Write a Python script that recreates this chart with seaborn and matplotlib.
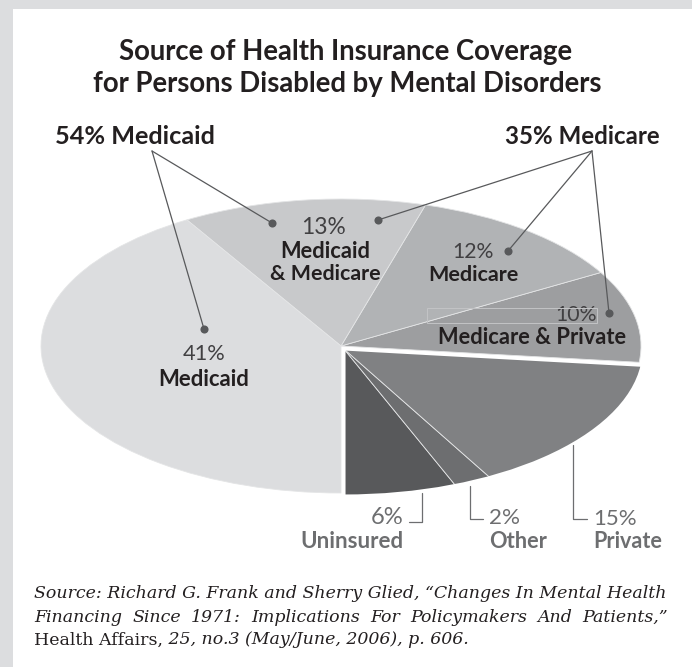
import matplotlib
matplotlib.use("Agg")
import matplotlib.pyplot as plt
import seaborn as sns
from matplotlib.patches import Rectangle, Wedge

sns.set_theme(style="white")
plt.rcParams['font.family'] = ['Lato', 'DejaVu Sans']

# ---------------- data ----------------
categories = ["Uninsured", "Other", "Private", "Medicare & Private",
              "Medicare", "Medicaid & Medicare", "Medicaid"]
shares = [6, 2, 15, 10, 12, 13, 41]
slice_colors = ["#58595b", "#6d6e70", "#808183", "#9d9ea0",
                "#b1b3b5", "#c8c9cb", "#dcdddf"]
pct_labels = ["6%", "2%", "15%", "10%", "12%", "13%", "41%"]
name_labels = ["Uninsured", "Other", "Private", "Medicare & Private",
               "Medicare", "Medicaid\n& Medicare", "Medicaid"]
group_labels = ["54% Medicaid", "35% Medicare"]
title_lines = ["Source of Health Insurance Coverage",
               "for Persons Disabled by Mental Disorders"]
source_lines = [
    "Source: Richard G. Frank and Sherry Glied, \u201cChanges In Mental Health",
    "Financing Since 1971: Implications For Policymakers And Patients,\u201d",
]
source_journal = "Health Affairs,"
source_tail = " 25, no.3 (May/June, 2006), p. 606."

# ---------------- figure ----------------
W, H = 692, 667
fig = plt.figure(figsize=(W / 100, H / 100), dpi=100)
fig.patch.set_facecolor("#dcdddf")
fig.add_artist(Rectangle((13 / W, 0), 1 - 13 / W, 1 - 9 / H,
                         transform=fig.transFigure, facecolor="white",
                         edgecolor="none", zorder=-1))

# pie axes: y squashed to make the tilted (elliptical) pie
s = 147 / 300
cx, cy = 341, 346
R = 300
ax = fig.add_axes([0, 0, 1, 1])
ax.patch.set_alpha(0)
wedges, _ = ax.pie(shares, colors=slice_colors, startangle=-90,
                   counterclock=True, radius=R,
                   center=(cx, (H - cy) / s),
                   wedgeprops=dict(edgecolor="#e4e5e6", linewidth=0.6))
ax.set_xlim(0, W)
ax.set_ylim(0, H / s)
ax.set_aspect("auto")
ax.axis("off")

# the lower (non-Medicaid/Medicare) group is pulled out slightly
gx, gy = cx + 3, cy + 3
for w in wedges[:3]:
    w.set_center((gx, (H - gy) / s))
theta_end = -90 + 360 * sum(shares[:3]) / sum(shares)
ax.add_patch(Wedge((gx, (H - gy) / s), R, -90, theta_end, facecolor="none",
                   edgecolor="white", linewidth=2.2, zorder=3))

# overlay axes in pixel coords (y down)
ov = fig.add_axes([0, 0, 1, 1])
ov.set_xlim(0, W)
ov.set_ylim(H, 0)
ov.axis("off")
ov.patch.set_alpha(0)

fig.canvas.draw()
rend = fig.canvas.get_renderer()


def width_of(t):
    return t.get_window_extent(renderer=rend).width


def put(x, y, txt, fit=None, **kw):
    t = ov.text(x, y, txt, **kw)
    if fit:
        t.set_fontsize(t.get_fontsize() * fit / width_of(t))
    return t


DARK = "#231f20"
MID = "#414042"
GREY = "#6d6e70"
LINE = "#58595b"

# title
put(346, 52, title_lines[0], fit=456, ha="center", va="center",
    fontsize=18, weight="bold", color=DARK)
put(347, 84, title_lines[1], fit=511, ha="center", va="center",
    fontsize=18, weight="bold", color=DARK)

# group labels
put(135, 137, group_labels[0], fit=160, ha="center", va="center",
    fontsize=13, weight="bold", color=DARK)
put(582, 137, group_labels[1], fit=155, ha="center", va="center",
    fontsize=13, weight="bold", color=DARK)

# leader lines with dots
for apex, dots in [((152, 151), [(272, 223), (204, 329)]),
                   ((592, 151), [(378, 220), (508, 251), (609, 313)])]:
    for d in dots:
        ov.plot([apex[0], d[0]], [apex[1], d[1]], color=LINE, lw=0.9, zorder=4)
        ov.scatter([d[0]], [d[1]], s=34, color=LINE, zorder=5, linewidths=0)

# inside labels
FS = 13.5
put(323, 227, pct_labels[5], fit=45, ha="center", va="center", fontsize=FS,
    color=MID)
mm1, mm2 = name_labels[5].split("\n")
put(325, 251, mm1, fit=90, ha="center", va="center", fontsize=FS,
    weight="bold", color=DARK)
put(325, 274, mm2, fit=110, ha="center", va="center", fontsize=FS,
    weight="bold", color=DARK)
put(494, 252, pct_labels[4], fit=42, ha="right", va="center", fontsize=FS,
    color=MID)
put(473, 275, name_labels[4], fit=90, ha="center", va="center", fontsize=FS,
    weight="bold", color=DARK)
ov.add_patch(Rectangle((427, 308), 170, 15, facecolor="none",
                       edgecolor="#c3c4c6", lw=0.7, zorder=4))
put(597, 315, pct_labels[3], fit=42, ha="right", va="center", fontsize=FS,
    color=MID)
put(532, 338, name_labels[3], fit=188, ha="center", va="center", fontsize=FS,
    weight="bold", color=DARK)
put(204, 354, pct_labels[6], fit=43, ha="center", va="center", fontsize=FS,
    color=MID)
put(204, 379, name_labels[6], fit=91, ha="center", va="center", fontsize=FS,
    weight="bold", color=DARK)

# bottom labels with bracket leaders
for pts in [[(409, 522), (422, 522), (422, 493)],
            [(470, 486), (470, 519), (483, 519)],
            [(573, 445), (573, 519), (587, 519)]]:
    ov.plot([p[0] for p in pts], [p[1] for p in pts], color=GREY, lw=0.9)

put(403, 518, pct_labels[0], fit=33, ha="right", va="center", fontsize=FS,
    color=GREY)
put(352, 541, name_labels[0], fit=102, ha="center", va="center", fontsize=FS,
    weight="bold", color=GREY)
put(489, 518, pct_labels[1], fit=31, ha="left", va="center", fontsize=FS,
    color=GREY)
put(489, 541, name_labels[1], fit=58, ha="left", va="center", fontsize=FS,
    weight="bold", color=GREY)
put(593, 519, pct_labels[2], fit=44, ha="left", va="center", fontsize=FS,
    color=GREY)
put(593, 542, name_labels[2], fit=69, ha="left", va="center", fontsize=FS,
    weight="bold", color=GREY)

# source note
SERIF = ["DejaVu Serif"]
X0, X1 = 34, 668
t1 = put(X0, 594, source_lines[0], fit=X1 - X0, ha="left", va="center",
         fontsize=12, style="italic", family=SERIF, color=DARK)
sfs = t1.get_fontsize()

# justified second line
words = source_lines[1].split(" ")
wt = [ov.text(0, 617, w, ha="left", va="center", fontsize=sfs,
              style="italic", family=SERIF, color=DARK) for w in words]
ws = [width_of(t) for t in wt]
gap = (X1 - X0 - sum(ws)) / (len(words) - 1)
x = X0
for t, w in zip(wt, ws):
    t.set_x(x)
    x += w + gap

j = put(X0, 640, source_journal, ha="left", va="center", fontsize=sfs,
        family=SERIF, color=DARK)
put(X0 + width_of(j), 640, source_tail, ha="left", va="center",
    fontsize=sfs, style="italic", family=SERIF, color=DARK)

fig.savefig("out.png", dpi=100, facecolor=fig.get_facecolor())
